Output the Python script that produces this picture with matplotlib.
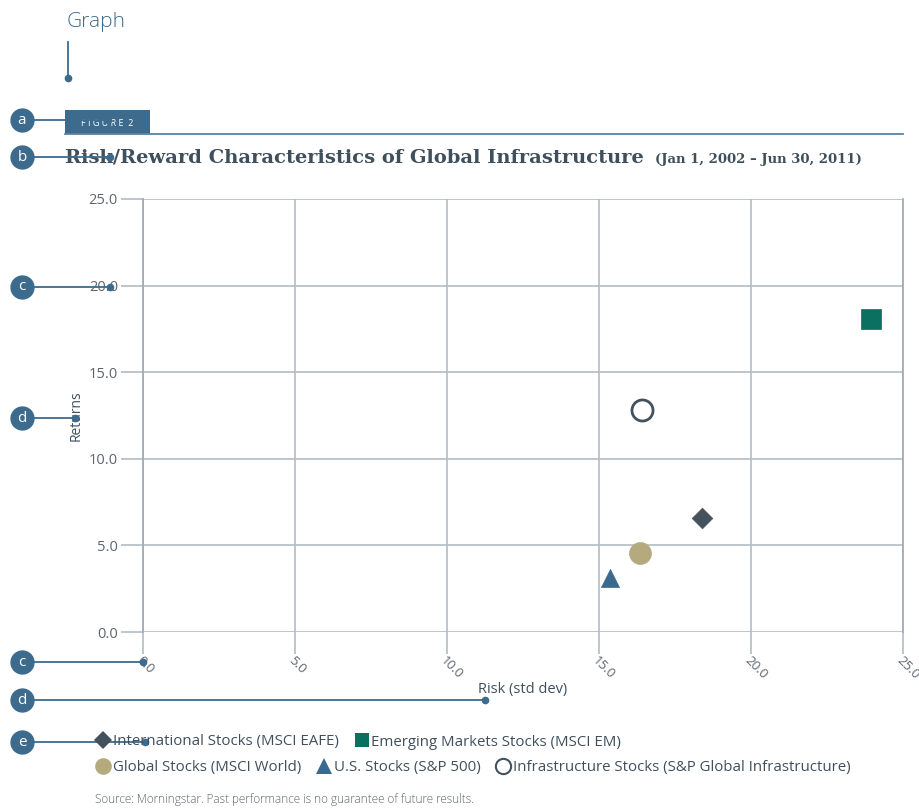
import matplotlib
matplotlib.use("Agg")
import matplotlib.pyplot as plt
from matplotlib.lines import Line2D

# data
names = ["International Stocks (MSCI EAFE)", "Emerging Markets Stocks (MSCI EM)",
         "Global Stocks (MSCI World)", "U.S. Stocks (S&P 500)",
         "Infrastructure Stocks (S&P Global Infrastructure)"]
risk = [18.4, 23.95, 16.35, 15.35, 16.4]
returns = [6.6, 18.1, 4.55, 3.1, 12.8]
markers = ["D", "s", "o", "^", "o"]
face = ["#44525e", "#0a7060", "#b5a97e", "#3a6a8e", "white"]
edge = ["#44525e", "#0a7060", "#b5a97e", "#3a6a8e", "#44525e"]
sizes = [110, 190, 250, 170, 230]
ticks = [0, 5, 10, 15, 20, 25]

callouts = [("a", 120, 108), ("b", 157, 110), ("c", 287, 110), ("d", 418, 75),
            ("c", 662, 143), ("d", 700, 485), ("e", 742, 145)]

BLUE = "#3d6b8d"
DARK = "#3f4f5c"
GRAY = "#5d6670"
GRID = "#b3bcc5"
SANS = ["Open Sans", "DejaVu Sans"]

W, H = 920, 809
fig = plt.figure(figsize=(9.2, 8.09), dpi=100)
ax = fig.add_axes([143 / W, 1 - 632 / H, 760 / W, 433 / H])

for i in range(len(names)):
    ax.scatter(risk[i], returns[i], marker=markers[i], s=sizes[i], c=face[i],
               edgecolors=edge[i], linewidths=2 if i == 4 else 0.5, zorder=3)

ax.set_xlim(0, 25)
ax.set_ylim(0, 25)
ax.set_xticks(ticks)
ax.set_yticks(ticks)
ax.set_xticklabels([f"{t:.1f}" for t in ticks], rotation=-45, ha="left", va="top",
                   rotation_mode="anchor", family=SANS, fontsize=9.5, color=GRAY)
ax.set_yticklabels([f"{t:.1f}" for t in ticks], family=SANS, fontsize=10.5, color=GRAY)
ax.tick_params(axis="both", length=16, width=1.2, color=GRID)
ax.tick_params(axis="y", pad=2)
ax.tick_params(axis="x", pad=0)
ax.grid(True, color=GRID, linewidth=1.2)
ax.set_axisbelow(True)
for side in ["top", "bottom"]:
    ax.spines[side].set_visible(False)
for side in ["left", "right"]:
    ax.spines[side].set_color("#a3abb3")
    ax.spines[side].set_linewidth(1.3)
ax.set_xlabel("Risk (std dev)", family=SANS, fontsize=10.5, color=DARK, labelpad=0)
ax.set_ylabel("Returns", family=SANS, fontsize=10, color=DARK, labelpad=4)

handles = [Line2D([], [], ls="none", marker=markers[i], mfc=face[i], mec=edge[i],
                  mew=1.5 if i == 4 else 0, ms=ms)
           for i, ms in enumerate([9, 10, 12, 11, 11])]
leg_kw = dict(frameon=False, handletextpad=0.15, columnspacing=1.0, handlelength=1.0,
              prop={"family": SANS, "size": 10.8}, labelcolor=DARK, borderaxespad=0)
fig.legend(handles[:2], names[:2], ncol=2, loc="center left",
           bbox_to_anchor=(90 / W, 1 - 742 / H), **leg_kw)
fig.legend(handles[2:], names[2:], ncol=3, loc="center left",
           bbox_to_anchor=(90 / W, 1 - 768 / H), **leg_kw)

# overlay in pixel coordinates for the annotation layer
ov = fig.add_axes([0, 0, 1, 1], zorder=5)
ov.set_xlim(0, W)
ov.set_ylim(H, 0)
ov.axis("off")

ov.text(67, 22, "Graph", family=SANS, fontsize=15, color=BLUE, fontweight="light", va="center")
ov.plot([68, 68], [42, 78], color=BLUE, lw=1.3)
ov.plot([68], [78], "o", color=BLUE, ms=4.5)

ov.add_patch(plt.Rectangle((65, 110), 85, 24, color=BLUE, lw=0))
ov.text(107, 123, "F I G U R E  2", family=SANS, fontsize=6.5, color="white", ha="center", va="center")
ov.plot([65, 903], [133.5, 133.5], color="#5b84a3", lw=1.3)

ov.text(65, 157, "Risk/Reward Characteristics of Global Infrastructure", family="DejaVu Serif",
        fontweight="bold", fontsize=14, color=DARK, va="center")
ov.text(655, 159, "(Jan 1, 2002 \u2013 Jun 30, 2011)", family="DejaVu Serif",
        fontweight="bold", fontsize=9.5, color=DARK, va="center")

for letter, y, xend in callouts:
    ov.plot([22, xend], [y, y], color=BLUE, lw=1.3, zorder=6)
    ov.plot([xend], [y], "o", color=BLUE, ms=4.5, zorder=6)
    ov.plot([22], [y], "o", color=BLUE, ms=16.5, zorder=7)
    ov.text(22, y, letter, family=SANS, fontsize=11, color="white", ha="center", va="center", zorder=8)

ov.text(95, 800, "Source: Morningstar. Past performance is no guarantee of future results.",
        family=SANS, fontsize=8.5, color=GRAY, fontweight="light", va="center")

fig.savefig("out.png", dpi=100, facecolor="white")
